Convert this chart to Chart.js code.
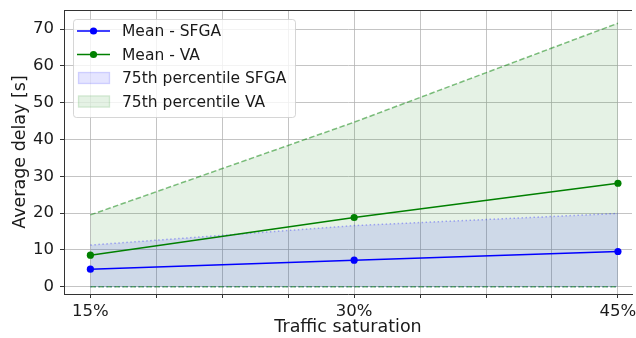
<!DOCTYPE html>
<html>
<head>
<meta charset="utf-8">
<script src="https://cdn.jsdelivr.net/npm/chart.js@4.4.0/dist/chart.umd.min.js"></script>
<style>
  html, body { margin: 0; padding: 0; background: #fff; overflow: hidden; }
</style>
</head>
<body>
<canvas id="delay-chart" width="636" height="338"></canvas>
<script>
// traffic saturation (%) on the x axis
const saturation = [15, 30, 45];

// average delay in seconds
const meanSfga = [4.75, 7.2, 9.55];
const meanVa = [8.55, 18.8, 28.1];
const p75SfgaLow = [0, 0, 0];
const p75SfgaHigh = [11.3, 16.6, 19.9];
const p75VaLow = [0, 0, 0];
const p75VaHigh = [19.5, 44.7, 71.6];

// ticks
const xTicks = [15, 18.75, 22.5, 26.25, 30, 33.75, 37.5, 41.25, 45];
const xTickLabels = { 15: "15%", 30: "30%", 45: "45%" };
const yTicks = [0, 10, 20, 30, 40, 50, 60, 70];

const FONT = "'DejaVu Sans', sans-serif";
const BLUE = "#0000ff";
const GREEN = "#008000";

const pts = (ys) => saturation.map((x, i) => ({ x: x, y: ys[i] }));

// top spine
const frameTop = {
  id: "frameTop",
  afterDraw(chart) {
    const { ctx, chartArea } = chart;
    ctx.save();
    ctx.strokeStyle = "#333";
    ctx.lineWidth = 1;
    ctx.beginPath();
    ctx.moveTo(chartArea.left, chartArea.top + 0.5);
    ctx.lineTo(chartArea.right, chartArea.top + 0.5);
    ctx.stroke();
    ctx.restore();
  },
};

// legend box in the upper left corner of the plot
const boxLegend = {
  id: "boxLegend",
  afterDraw(chart) {
    const { ctx } = chart;
    const items = chart.data.datasets.filter((d) => d.legendKind);
    const x0 = 73, y0 = 19, w = 222, h = 98;
    ctx.save();
    ctx.beginPath();
    ctx.roundRect(x0 + 0.5, y0 + 0.5, w, h, 3);
    ctx.fillStyle = "rgba(255,255,255,0.8)";
    ctx.fill();
    ctx.strokeStyle = "rgba(204,204,204,0.8)";
    ctx.lineWidth = 1;
    ctx.stroke();

    const rows = [31, 54.5, 78, 101.5];
    items.forEach((d, i) => {
      const y = rows[i];
      if (d.legendKind === "line") {
        ctx.strokeStyle = d.borderColor;
        ctx.lineWidth = 1.5;
        ctx.beginPath();
        ctx.moveTo(77, y);
        ctx.lineTo(110, y);
        ctx.stroke();
        ctx.fillStyle = d.borderColor;
        ctx.beginPath();
        ctx.arc(93.5, y, 3.6, 0, Math.PI * 2);
        ctx.fill();
      } else {
        ctx.fillStyle = d.backgroundColor;
        ctx.fillRect(78, y - 6, 32, 12);
        ctx.strokeStyle = d.backgroundColor;
        ctx.strokeRect(78.5, y - 5.5, 31, 11);
      }
      ctx.fillStyle = "#1a1a1a";
      ctx.font = "15.5px " + FONT;
      ctx.textBaseline = "middle";
      ctx.textAlign = "left";
      ctx.fillText(d.label, 122, y + 1);
    });
    ctx.restore();
  },
};

new Chart(document.getElementById("delay-chart"), {
  type: "line",
  data: {
    datasets: [
      {
        label: "Mean - SFGA",
        legendKind: "line",
        order: 0,
        data: pts(meanSfga),
        borderColor: BLUE,
        backgroundColor: BLUE,
        borderWidth: 1.5,
        pointRadius: 3.6,
        pointBorderWidth: 0,
        pointBackgroundColor: BLUE,
        fill: false,
      },
      {
        label: "Mean - VA",
        legendKind: "line",
        order: 0,
        data: pts(meanVa),
        borderColor: GREEN,
        backgroundColor: GREEN,
        borderWidth: 1.5,
        pointRadius: 3.6,
        pointBorderWidth: 0,
        pointBackgroundColor: GREEN,
        fill: false,
      },
      {
        label: "SFGA p75 low",
        order: 3,
        data: pts(p75SfgaLow),
        borderColor: "rgba(0,0,255,0.3)",
        borderDash: [1.5, 2.5],
        borderWidth: 1.5,
        pointRadius: 0,
        fill: false,
      },
      {
        label: "75th percentile SFGA",
        legendKind: "patch",
        order: 2,
        data: pts(p75SfgaHigh),
        borderColor: "rgba(0,0,255,0.3)",
        borderDash: [1.5, 2.5],
        borderWidth: 1.5,
        backgroundColor: "rgba(0,0,255,0.1)",
        pointRadius: 0,
        fill: 2,
      },
      {
        label: "VA p75 low",
        order: 1,
        data: pts(p75VaLow),
        borderColor: "rgba(0,128,0,0.5)",
        borderDash: [5.5, 2.5],
        borderWidth: 1.5,
        pointRadius: 0,
        fill: false,
      },
      {
        label: "75th percentile VA",
        legendKind: "patch",
        order: 4,
        data: pts(p75VaHigh),
        borderColor: "rgba(0,128,0,0.5)",
        borderDash: [5.5, 2.5],
        borderWidth: 1.5,
        backgroundColor: "rgba(0,128,0,0.1)",
        pointRadius: 0,
        fill: 4,
      },
    ],
  },
  options: {
    responsive: false,
    animation: false,
    events: [],
    layout: { padding: { top: 10, right: 0, bottom: 0, left: 0 } },
    elements: { line: { tension: 0 } },
    plugins: {
      legend: { display: false },
      tooltip: { enabled: false },
      filler: { propagate: false },
    },
    scales: {
      x: {
        type: "linear",
        min: 13.5,
        max: 45.8,
        afterBuildTicks: (scale) => {
          scale.ticks = xTicks.map((v) => ({ value: v }));
        },
        afterFit: (scale) => {
          scale.height = 44;
          scale.paddingLeft = 0;
          scale.paddingRight = 0;
        },
        ticks: {
          autoSkip: false,
          maxRotation: 0,
          padding: 4,
          color: "#1a1a1a",
          font: { family: FONT, size: 16.5 },
          callback: (v) => xTickLabels[v] || "",
        },
        grid: {
          color: "rgba(176,176,176,0.75)",
          lineWidth: 1,
          tickColor: "#333",
          tickLength: 4,
        },
        border: { color: "#333", width: 1 },
        title: {
          display: true,
          text: "Traffic saturation",
          color: "#1a1a1a",
          font: { family: FONT, size: 17.5 },
          padding: { top: 0, bottom: 0 },
        },
      },
      y: {
        type: "linear",
        min: -2,
        max: 75.2,
        afterBuildTicks: (scale) => {
          scale.ticks = yTicks.map((v) => ({ value: v }));
        },
        afterFit: (scale) => {
          scale.width = 64;
          scale.paddingTop = 0;
          scale.paddingBottom = 0;
        },
        ticks: {
          padding: 6,
          color: "#1a1a1a",
          font: { family: FONT, size: 16.5 },
        },
        grid: {
          color: "rgba(176,176,176,0.75)",
          lineWidth: 1,
          tickColor: "#333",
          tickLength: 4,
        },
        border: { color: "#333", width: 1 },
        title: {
          display: true,
          text: "Average delay [s]",
          color: "#1a1a1a",
          font: { family: FONT, size: 17.5 },
          padding: { top: 10, bottom: 0 },
        },
      },
    },
  },
  plugins: [frameTop, boxLegend],
});
</script>
</body>
</html>
